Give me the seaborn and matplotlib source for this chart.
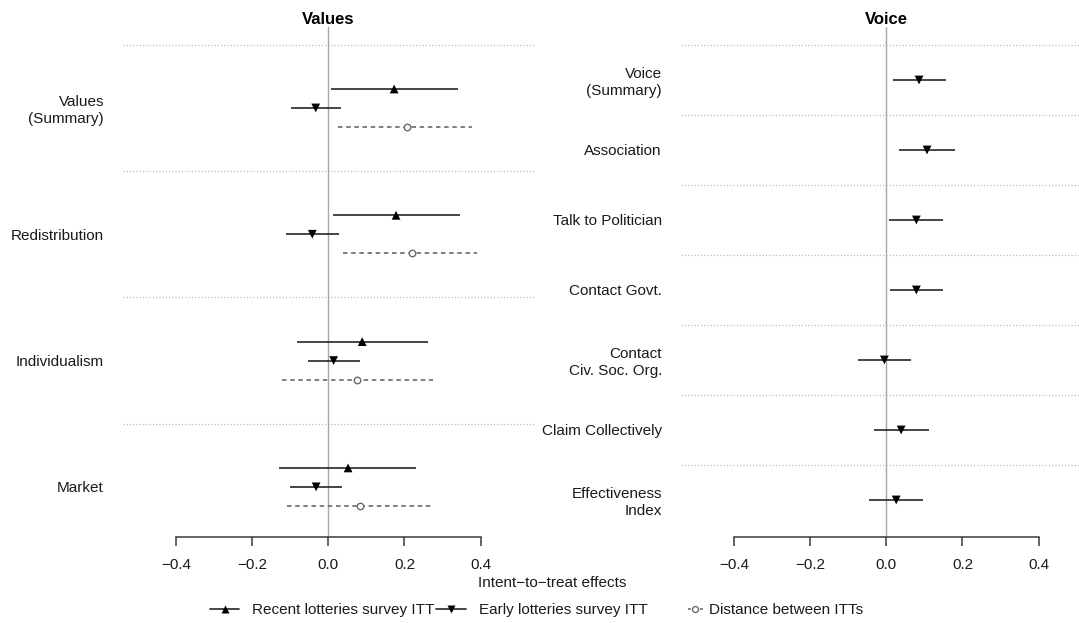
import numpy as np
import pandas as pd
import matplotlib
matplotlib.use("Agg")
import matplotlib.pyplot as plt
from matplotlib.lines import Line2D
import seaborn as sns

# ---- data ----
values_labels = ["Values\n(Summary)", "Redistribution", "Individualism", "Market"]
recent_est = [0.173, 0.178, 0.089, 0.052]
recent_lo = [0.006, 0.012, -0.083, -0.129]
recent_hi = [0.341, 0.346, 0.263, 0.231]
early_est = [-0.033, -0.042, 0.014, -0.032]
early_lo = [-0.099, -0.110, -0.054, -0.100]
early_hi = [0.033, 0.029, 0.082, 0.035]
dist_est = [0.207, 0.220, 0.075, 0.083]
dist_lo = [0.026, 0.039, -0.121, -0.108]
dist_hi = [0.378, 0.391, 0.274, 0.277]

voice_labels = ["Voice\n(Summary)", "Association", "Talk to Politician", "Contact Govt.",
                "Contact\nCiv. Soc. Org.", "Claim Collectively", "Effectiveness\nIndex"]
voice_est = [0.086, 0.107, 0.079, 0.079, -0.005, 0.039, 0.026]
voice_lo = [0.017, 0.034, 0.006, 0.010, -0.074, -0.032, -0.045]
voice_hi = [0.157, 0.180, 0.150, 0.148, 0.065, 0.111, 0.097]

x_ticks = [-0.4, -0.2, 0.0, 0.2, 0.4]
x_ticklabels = ["\u22120.4", "\u22120.2", "0.0", "0.2", "0.4"]

legend_labels = ["Recent lotteries survey ITT", "Early lotteries survey ITT",
                 "Distance between ITTs"]

sns.set_theme(style="white")
plt.rcParams["font.family"] = ["Liberation Sans", "DejaVu Sans"]
plt.rcParams["text.color"] = "black"

W, H = 1079, 623
fig = plt.figure(figsize=(W / 100, H / 100), dpi=100)

LINE = "#262626"
DASH = "#6a6a6a"
ZERO = "#a6a6a6"
SEP = "#bdbdbd"

series_style = {
    "recent": dict(marker="^", color=LINE, ls="-"),
    "early": dict(marker="v", color=LINE, ls="-"),
    "dist": dict(marker="o", color=DASH, ls=(0, (2.7, 2.2))),
}


def frame(n):
    return pd.DataFrame({"pos": np.arange(n)})


def draw_series(ax, ypos, est, lo, hi, kind):
    st = series_style[kind]
    df = pd.DataFrame({"y": ypos, "est": est, "lo": lo, "hi": hi})
    ax.hlines(df["y"], df["lo"], df["hi"], color=st["color"], lw=1.2,
              linestyles=[st["ls"]], zorder=3)
    if kind == "dist":
        sns.scatterplot(data=df, x="est", y="y", ax=ax, marker="o", s=22,
                        facecolor="white", edgecolor=DASH, linewidth=1.0,
                        zorder=4, legend=False)
    else:
        sns.scatterplot(data=df, x="est", y="y", ax=ax, marker=st["marker"], s=40,
                        color="black", edgecolor="none", zorder=4, legend=False)


def style_axis(ax, labels, ylim, title):
    n = len(labels)
    for b in np.arange(n) - 0.5:
        ax.axhline(b, color=SEP, lw=0.9, ls=(0, (1, 1.6)), zorder=1)
    ax.axvline(0, color=ZERO, lw=1.0, zorder=2)
    ax.set_xlim(-0.54, 0.54)
    ax.set_ylim(*ylim)
    ax.set_yticks(np.arange(n))
    ax.set_yticklabels(labels, fontsize=11)
    ax.tick_params(axis="y", length=0, pad=13.5, labelcolor="#1a1a1a")
    ax.set_xticks(x_ticks)
    ax.set_xticklabels(x_ticklabels, fontsize=11)
    ax.tick_params(axis="x", direction="out", length=6.5, width=1.1, color="#3a3a3a",
                   pad=8.5, labelcolor="#1a1a1a", bottom=True)
    for side in ["top", "right", "left"]:
        ax.spines[side].set_visible(False)
    ax.spines["bottom"].set_bounds(-0.4, 0.4)
    ax.spines["bottom"].set_color("#3a3a3a")
    ax.spines["bottom"].set_linewidth(1.1)
    ax.set_xlabel("")
    ax.set_ylabel("")
    ax.set_title(title, fontsize=12, fontweight="bold", pad=2)
    ax.grid(False)
    ax.set_facecolor("none")


# axes placement (plot region of the original)
top, bottom = 27, 537
axw = 411.2
ax1 = fig.add_axes([122.7 / W, 1 - bottom / H, axw / W, (bottom - top) / H])
ax2 = fig.add_axes([680.7 / W, 1 - bottom / H, axw / W, (bottom - top) / H])

# left panel: values
pos = frame(len(values_labels))["pos"].to_numpy()
off = 0.15
draw_series(ax1, pos - off, recent_est, recent_lo, recent_hi, "recent")
draw_series(ax1, pos, early_est, early_lo, early_hi, "early")
draw_series(ax1, pos + off, dist_est, dist_lo, dist_hi, "dist")
style_axis(ax1, values_labels, (3.397, -0.641), "Values")

# right panel: voice
pos2 = frame(len(voice_labels))["pos"].to_numpy()
draw_series(ax2, pos2, voice_est, voice_lo, voice_hi, "early")
style_axis(ax2, voice_labels, (6.529, -0.757), "Voice")

fig.text(552 / W, 1 - 583 / H, "Intent\u2212to\u2212treat effects", fontsize=11,
         ha="center", va="center", color="#1a1a1a")

# legend, three pieces like the R horizontal legend
handles = [
    Line2D([], [], color=LINE, lw=1.2, marker="^", markersize=6.3,
           markerfacecolor="black", markeredgecolor="none"),
    Line2D([], [], color=LINE, lw=1.2, marker="v", markersize=6.3,
           markerfacecolor="black", markeredgecolor="none"),
    Line2D([], [], color=DASH, lw=1.2, ls=(0, (1.667, 5.5)), marker="o", markersize=4.3,
           markerfacecolor="white", markeredgecolor=DASH, markeredgewidth=1.0),
]
leg_x = [210, 435.7, 688]
hlen = [1.9, 2.0, 0.964]
hpad = [0.85, 0.85, 0.41]
for h, lab, x, hl, hp in zip(handles, legend_labels, leg_x, hlen, hpad):
    fig.legend(handles=[h], labels=[lab], loc="center left",
               bbox_to_anchor=(x / W, 1 - 610 / H), frameon=False, fontsize=11,
               borderpad=0, borderaxespad=0, handlelength=hl, handletextpad=hp,
               labelcolor="#1a1a1a")

plt.savefig("out.png", dpi=100)
plt.close()
